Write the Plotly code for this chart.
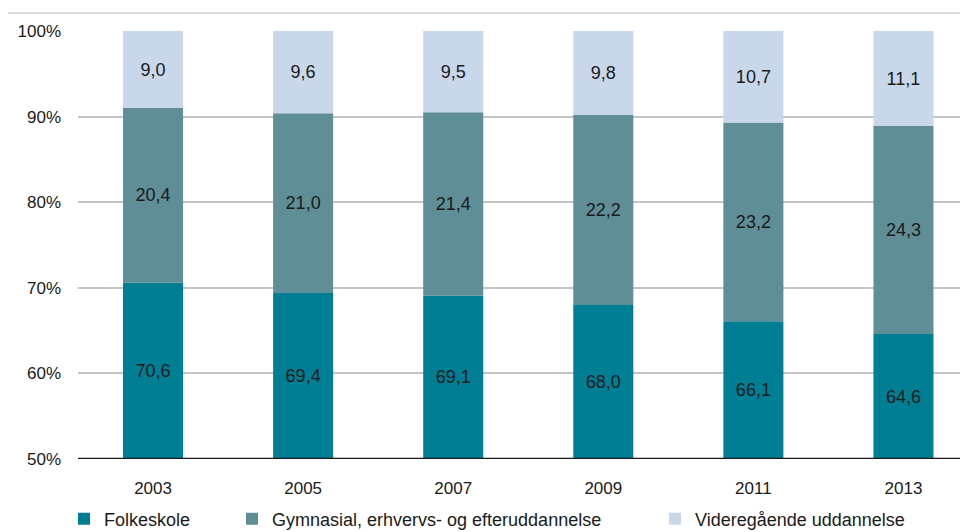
import plotly.graph_objects as go

years = ["2003", "2005", "2007", "2009", "2011", "2013"]
folkeskole = [70.6, 69.4, 69.1, 68.0, 66.1, 64.6]
gymnasial = [20.4, 21.0, 21.4, 22.2, 23.2, 24.3]
videregaaende = [9.0, 9.6, 9.5, 9.8, 10.7, 11.1]
names = ["Folkeskole", "Gymnasial, erhvervs- og efteruddannelse", "Videregående uddannelse"]
colors = ["#007E94", "#5F8E96", "#C8D8EA"]

AXIS_MIN = 50
FONT = "Liberation Sans"
TXT = "#1a1a1a"
W, H = 968, 532
OFF = 8  # page body margin


def fmt(v):
    return f"{v:.1f}".replace(".", ",")


fig = go.Figure()

# Bars are drawn from the axis floor (50%) so labels sit centred on the visible part
base1 = [AXIS_MIN] * len(years)
base2 = folkeskole
base3 = [a + b for a, b in zip(folkeskole, gymnasial)]
series = [
    (folkeskole, base1, [v - AXIS_MIN for v in folkeskole]),
    (gymnasial, base2, gymnasial),
    (videregaaende, base3, videregaaende),
]
legends = ["legend", "legend2", "legend3"]
for i, (vals, base, heights) in enumerate(series):
    fig.add_trace(go.Bar(
        x=years, y=heights, base=base, name=names[i],
        marker=dict(color=colors[i], line=dict(width=0)),
        text=[fmt(v) for v in vals], textposition="inside",
        insidetextanchor="middle", textangle=0,
        textfont=dict(family=FONT, size=18, color=TXT),
        legend=legends[i], showlegend=True,
        hovertemplate="%{x}: %{text}<extra>" + names[i] + "</extra>",
    ))

plot_left = 78 - OFF
plot_top = 31 - OFF
plot_bottom = 459 - OFF
plot_right = W - OFF
legend_y = (H - (519 - OFF)) / H

legend_common = dict(orientation="h", yanchor="middle", yref="container", y=legend_y,
                     xref="container", xanchor="left",
                     font=dict(family=FONT, size=18, color=TXT),
                     bgcolor="rgba(0,0,0,0)", itemwidth=30)
fig.update_layout(
    showlegend=True,
    barmode="overlay",
    bargap=0.6,
    width=W, height=H,
    margin=dict(l=plot_left, r=W - plot_right, t=plot_top, b=H - plot_bottom, autoexpand=False),
    paper_bgcolor="white", plot_bgcolor="white",
    font=dict(family=FONT, size=17, color=TXT),
    legend=dict(legend_common, x=(64 - OFF) / W),
    legend2=dict(legend_common, x=(232 - OFF) / W),
    legend3=dict(legend_common, x=(655 - OFF) / W),
    xaxis=dict(type="category", range=[-0.5, 5.43], showgrid=False,
               ticks="", ticklabelstandoff=17, automargin=False,
               tickfont=dict(family=FONT, size=17, color=TXT),
               showline=False, zeroline=False),
    yaxis=dict(range=[50, 100], dtick=10, ticksuffix="%", showgrid=True,
               gridcolor="#C4C4C4", gridwidth=1.5, ticks="", automargin=False,
               ticklabelstandoff=16, zeroline=False, showline=False,
               tickfont=dict(family=FONT, size=17, color=TXT)),
    shapes=[
        dict(type="line", xref="paper", yref="y", x0=0, x1=1, y0=50, y1=50,
             line=dict(color="#1a1a1a", width=2.5), layer="above"),
        dict(type="line", xref="paper", yref="paper",
             x0=-plot_left / (plot_right - plot_left), x1=1,
             y0=(plot_bottom - (13 - OFF)) / (plot_bottom - plot_top),
             y1=(plot_bottom - (13 - OFF)) / (plot_bottom - plot_top),
             line=dict(color="#D0D0D0", width=1.5)),
    ],
)

fig.write_html("out.html")
